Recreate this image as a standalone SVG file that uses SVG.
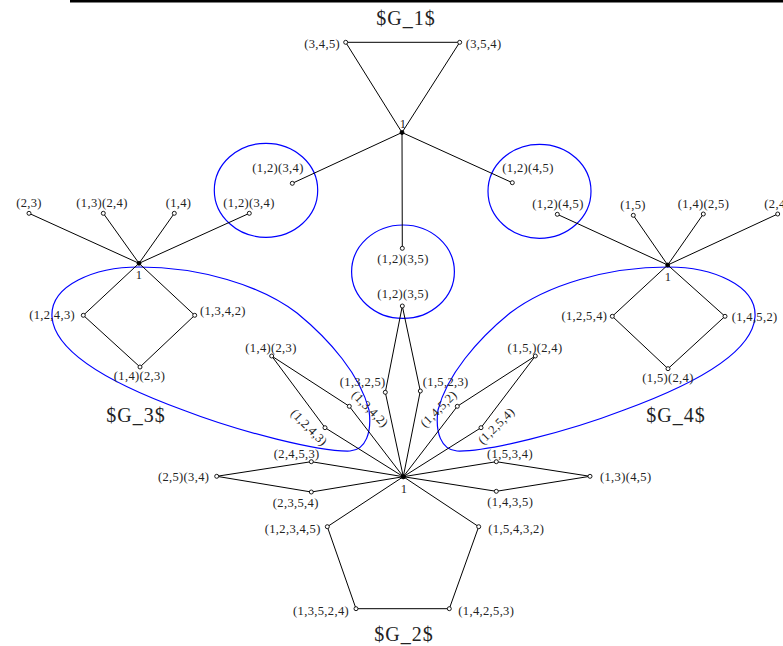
<svg xmlns="http://www.w3.org/2000/svg" width="783" height="646" viewBox="0 0 783 646">
  <style>
    .e { stroke: #000; stroke-width: 1; fill: none; }
    .v { fill: #fff; stroke: #000; stroke-width: 0.9; }
    .c { fill: #000; stroke: #000; stroke-width: 0.8; }
    .l { font-family: "Liberation Serif", "Times New Roman", serif; font-size: 12.5px; letter-spacing: 0.35px; fill: #222; }
    .m { text-anchor: middle; }
    .s { text-anchor: start; }
    .n { text-anchor: end; }
    .t { font-size: 20px; letter-spacing: 1px; }
    .h { fill: none; stroke: #0000ff; stroke-width: 1.2; }
  </style>
  <defs>
    <!-- teardrop hull drawn around the left cluster; mirrored for the right one -->
    <path id="hull" d="M139,267 C200,267 260,285 297,313 C330,340 360,375 369,410 C372,432 366,450 350,451 C320,452 240,432 183,410 C120,387 55,355 52,317 C50,285 95,267 139,267 Z"/>
  </defs>

  <rect x="70" y="0" width="713" height="2.5" fill="#000"/>

  <!-- cluster outlines -->
  <g id="hulls">
    <ellipse class="h" cx="266" cy="190.3" rx="51.7" ry="47"/>
    <ellipse class="h" cx="539.5" cy="191.3" rx="51.5" ry="47"/>
    <ellipse class="h" cx="403" cy="271.7" rx="51.4" ry="46.7"/>
    <use href="#hull" class="h"/>
    <use href="#hull" class="h" transform="translate(807,0) scale(-1,1)"/>
  </g>

  <!-- connectors -->
  <g id="edges" class="e">
    <!-- G_1 -->
    <line x1="402" y1="132.5" x2="345.7" y2="42.3"/>
    <line x1="402" y1="132.5" x2="459.7" y2="42.3"/>
    <line x1="345.7" y1="42.3" x2="459.7" y2="42.3"/>
    <line x1="402" y1="132.5" x2="292.3" y2="183.3"/>
    <line x1="402" y1="132.5" x2="512.3" y2="182.7"/>
    <line x1="402" y1="132.5" x2="402.3" y2="248.3"/>
    <!-- G_3 -->
    <line x1="139" y1="263.3" x2="29" y2="213.3"/>
    <line x1="139" y1="263.3" x2="103.3" y2="213.3"/>
    <line x1="139" y1="263.3" x2="174.3" y2="213.3"/>
    <line x1="139" y1="263.3" x2="249.3" y2="213.3"/>
    <line x1="139" y1="263.3" x2="83.3" y2="315.3"/>
    <line x1="139" y1="263.3" x2="194.7" y2="315.3"/>
    <line x1="83.3" y1="315.3" x2="140" y2="367"/>
    <line x1="194.7" y1="315.3" x2="140" y2="367"/>
    <!-- G_4 -->
    <line x1="667.7" y1="265" x2="557.3" y2="214.3"/>
    <line x1="667.7" y1="265" x2="633.3" y2="215.3"/>
    <line x1="667.7" y1="265" x2="703.3" y2="214"/>
    <line x1="667.7" y1="265" x2="777.7" y2="214"/>
    <line x1="667.7" y1="265" x2="612.3" y2="316.3"/>
    <line x1="667.7" y1="265" x2="725" y2="316.3"/>
    <line x1="612.3" y1="316.3" x2="668" y2="368.7"/>
    <line x1="725" y1="316.3" x2="668" y2="368.7"/>
    <!-- G_2 -->
    <polyline points="403.3,476.7 311.3,461.7 216.7,476.3 311.3,492 403.3,476.7"/>
    <polyline points="403.3,476.7 496.3,461.7 590,476.3 496.3,491.3 403.3,476.7"/>
    <polyline points="403.3,476.7 349.3,406.3 271.7,356 325,427.7 403.3,476.7"/>
    <polyline points="403.3,476.7 385.3,392.3 402.3,306 420.3,391 403.3,476.7"/>
    <polyline points="403.3,476.7 457.3,406.3 535.3,356 481,427.7 403.3,476.7"/>
    <polyline points="403.3,476.7 327.3,526.7 356,608.7 449.3,608.7 478.7,526.7 403.3,476.7"/>
  </g>

  <!-- G_1 -->
  <g id="g1-title"><text class="l t m" x="406" y="25">$G_1$</text></g>
  <g id="g1-root"><circle class="c" cx="402" cy="132.5" r="2"/><text class="l m" x="403" y="128">1</text></g>
  <g id="g1-345"><circle class="v" cx="345.7" cy="42.3" r="2"/><text class="l n" x="340" y="48">(3,4,5)</text></g>
  <g id="g1-354"><circle class="v" cx="459.7" cy="42.3" r="2"/><text class="l s" x="465.7" y="48">(3,5,4)</text></g>
  <g id="g1-1234"><circle class="v" cx="292.3" cy="183.3" r="2"/><text class="l m" x="278" y="172">(1,2)(3,4)</text></g>
  <g id="g1-1245"><circle class="v" cx="512.3" cy="182.7" r="2"/><text class="l m" x="528" y="172">(1,2)(4,5)</text></g>
  <g id="g1-1235"><circle class="v" cx="402.3" cy="248.3" r="2"/><text class="l m" x="403" y="263">(1,2)(3,5)</text></g>

  <!-- G_3 -->
  <g id="g3-title"><text class="l t m" x="136" y="422">$G_3$</text></g>
  <g id="g3-root"><circle class="c" cx="139" cy="263.3" r="2"/><text class="l m" x="139" y="278.5">1</text></g>
  <g id="g3-23"><circle class="v" cx="29" cy="213.3" r="2"/><text class="l m" x="29" y="206.5">(2,3)</text></g>
  <g id="g3-1324"><circle class="v" cx="103.3" cy="213.3" r="2"/><text class="l m" x="102" y="206.5">(1,3)(2,4)</text></g>
  <g id="g3-14"><circle class="v" cx="174.3" cy="213.3" r="2"/><text class="l m" x="178.5" y="206.5">(1,4)</text></g>
  <g id="g3-1234"><circle class="v" cx="249.3" cy="213.3" r="2"/><text class="l m" x="249" y="206.5">(1,2)(3,4)</text></g>
  <g id="g3-1243"><circle class="v" cx="83.3" cy="315.3" r="2"/><text class="l n" x="75" y="319">(1,2,4,3)</text></g>
  <g id="g3-1342"><circle class="v" cx="194.7" cy="315.3" r="2"/><text class="l s" x="200" y="315">(1,3,4,2)</text></g>
  <g id="g3-1423"><circle class="v" cx="140" cy="367" r="2"/><text class="l m" x="139.5" y="380">(1,4)(2,3)</text></g>

  <!-- G_4 -->
  <g id="g4-title"><text class="l t m" x="676" y="422">$G_4$</text></g>
  <g id="g4-root"><circle class="c" cx="667.7" cy="265" r="2"/><text class="l m" x="668" y="281">1</text></g>
  <g id="g4-1245"><circle class="v" cx="557.3" cy="214.3" r="2"/><text class="l m" x="558" y="207.5">(1,2)(4,5)</text></g>
  <g id="g4-15"><circle class="v" cx="633.3" cy="215.3" r="2"/><text class="l m" x="633" y="208.5">(1,5)</text></g>
  <g id="g4-1425"><circle class="v" cx="703.3" cy="214" r="2"/><text class="l m" x="703.5" y="208">(1,4)(2,5)</text></g>
  <g id="g4-24"><circle class="v" cx="777.7" cy="214" r="2"/><text class="l s" x="764.3" y="208">(2,4)</text></g>
  <g id="g4-1254"><circle class="v" cx="612.3" cy="316.3" r="2"/><text class="l n" x="607.3" y="320">(1,2,5,4)</text></g>
  <g id="g4-1452"><circle class="v" cx="725" cy="316.3" r="2"/><text class="l s" x="731.7" y="321">(1,4,5,2)</text></g>
  <g id="g4-1524"><circle class="v" cx="668" cy="368.7" r="2"/><text class="l m" x="668" y="382">(1,5)(2,4)</text></g>

  <!-- G_2 -->
  <g id="g2-title"><text class="l t m" x="404" y="641">$G_2$</text></g>
  <g id="g2-root"><circle class="c" cx="403.3" cy="476.7" r="2.2"/><text class="l m" x="404" y="493">1</text></g>
  <g id="g2-1235"><circle class="v" cx="402.3" cy="306" r="2"/><text class="l m" x="403" y="298">(1,2)(3,5)</text></g>
  <g id="g2-2534"><circle class="v" cx="216.7" cy="476.3" r="2"/><text class="l n" x="209.3" y="481">(2,5)(3,4)</text></g>
  <g id="g2-2453"><circle class="v" cx="311.3" cy="461.7" r="2"/><text class="l m" x="296.7" y="457.5">(2,4,5,3)</text></g>
  <g id="g2-2354"><circle class="v" cx="311.3" cy="492" r="2"/><text class="l m" x="295.8" y="506.5">(2,3,5,4)</text></g>
  <g id="g2-1534"><circle class="v" cx="496.3" cy="461.7" r="2"/><text class="l m" x="510" y="457.5">(1,5,3,4)</text></g>
  <g id="g2-1435"><circle class="v" cx="496.3" cy="491.3" r="2"/><text class="l m" x="510.3" y="506">(1,4,3,5)</text></g>
  <g id="g2-1345"><circle class="v" cx="590" cy="476.3" r="2"/><text class="l s" x="600" y="481">(1,3)(4,5)</text></g>
  <g id="g2-12345"><circle class="v" cx="327.3" cy="526.7" r="2"/><text class="l n" x="320.7" y="533">(1,2,3,4,5)</text></g>
  <g id="g2-15432"><circle class="v" cx="478.7" cy="526.7" r="2"/><text class="l s" x="488.3" y="533">(1,5,4,3,2)</text></g>
  <g id="g2-13524"><circle class="v" cx="356" cy="608.7" r="2"/><text class="l n" x="349" y="615">(1,3,5,2,4)</text></g>
  <g id="g2-14253"><circle class="v" cx="449.3" cy="608.7" r="2"/><text class="l s" x="458.3" y="615">(1,4,2,5,3)</text></g>
  <g id="g2-1423"><circle class="v" cx="271.7" cy="356" r="2"/><text class="l m" x="271" y="351.5">(1,4)(2,3)</text></g>
  <g id="g2-1342"><circle class="v" cx="349.3" cy="406.3" r="2"/><text class="l m" x="370" y="413" transform="rotate(45 370 409)">(1,3,4,2)</text></g>
  <g id="g2-1243"><circle class="v" cx="325" cy="427.7" r="2"/><text class="l m" x="309" y="431.5" transform="rotate(45 309 427.5)">(1,2,4,3)</text></g>
  <g id="g2-1325"><circle class="v" cx="385.3" cy="392.3" r="2"/><text class="l m" x="362.7" y="385.5">(1,3,2,5)</text></g>
  <g id="g2-1523"><circle class="v" cx="420.3" cy="391" r="2"/><text class="l m" x="445.7" y="385.5">(1,5,2,3)</text></g>
  <g id="g2-1452"><circle class="v" cx="457.3" cy="406.3" r="2"/><text class="l m" x="438.7" y="413" transform="rotate(-45 438.7 409)">(1,4,5,2)</text></g>
  <g id="g2-1254"><circle class="v" cx="481" cy="427.7" r="2"/><text class="l m" x="496.3" y="430" transform="rotate(-45 496.3 426)">(1,2,5,4)</text></g>
  <g id="g2-1524"><circle class="v" cx="535.3" cy="356" r="2"/><text class="l m" x="535" y="351.5">(1,5,)(2,4)</text></g>
</svg>
